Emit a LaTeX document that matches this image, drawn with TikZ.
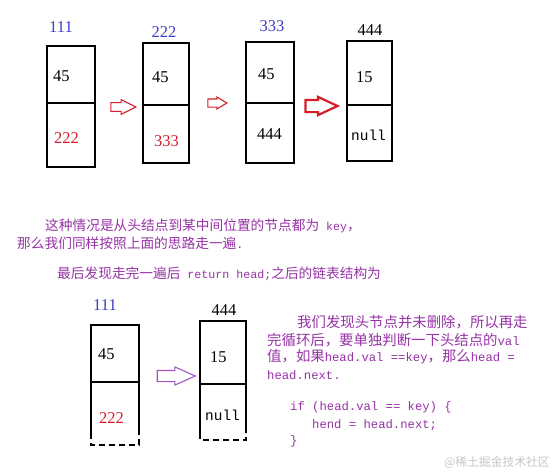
\documentclass[tikz,border=0pt]{standalone}
\usepackage{fontspec}
\setmainfont{Liberation Serif}
\newfontfamily\cjk{Noto Sans CJK SC}
\newfontfamily\code[Scale=0.85]{Liberation Mono}
\usetikzlibrary{shapes.arrows}
\definecolor{addrblue}{RGB}{60,60,200}
\definecolor{nextred}{RGB}{215,30,40}
\definecolor{notepurple}{RGB}{150,50,165}
\definecolor{arrowpurple}{RGB}{165,85,195}

\begin{document}
\begin{tikzpicture}[x=1pt, y=-1pt,
    box/.style={line width=2.6pt},
    addr/.style={font=\fontsize{16.5}{16}\selectfont, inner sep=0pt},
    val/.style={font=\fontsize{16.5}{16}\selectfont, anchor=west, inner sep=0pt},
    note/.style={font=\cjk\fontsize{13.7}{17}\selectfont, text=notepurple, anchor=west, inner sep=0pt},
    remark/.style={note, font=\cjk\fontsize{14.4}{17}\selectfont},
    fat/.style={single arrow, draw=#1, fill=white, inner xsep=0pt, single arrow head indent=0pt}
  ]
    \useasboundingbox (0,0) rectangle (553,472);

    % Draw the first list
    \draw[box] (47,46) rectangle (95,167);
    \draw[box] (47,103) -- (95,103);
    \draw[box] (143,43) rectangle (189,163);
    \draw[box] (143,105) -- (189,105);
    \draw[box] (246,42) rectangle (294,163);
    \draw[box] (246,103) -- (294,103);
    \draw[box] (347,41) rectangle (392,161);
    \draw[box] (347,105) -- (392,105);

    % Addresses
    \node[addr, text=addrblue] (a1) at (61,27) {111};
    \node[addr, text=addrblue] (a2) at (164,32) {222};
    \node[addr, text=addrblue] (a3) at (272,26) {333};
    \node[addr] (a4) at (370,30) {444};

    % Values and next fields
    \node[val] (v1) at (53,76) {45};
    \node[val, text=nextred] (n1) at (54,138) {222};
    \node[val] (v2) at (152,77) {45};
    \node[val, text=nextred] (n2) at (154,141) {333};
    \node[val] (v3) at (258,74) {45};
    \node[val] (n3) at (257,134) {444};
    \node[val] (v4) at (356,77) {15};
    \node[val, font=\code\fontsize{17}{16}\selectfont] (n4) at (351,135) {null};

    % Arrows between the steps
    \node[fat=nextred, line width=1.1pt, minimum height=25, inner ysep=3.8,
      single arrow head extend=3, single arrow tip angle=53] (ar1) at (119,107) {};
    \node[fat=nextred, line width=1.1pt, minimum height=19, inner ysep=3.5,
      single arrow head extend=2, single arrow tip angle=62] (ar2) at (214,103) {};
    \node[fat=nextred, line width=2.2pt, minimum height=32, inner ysep=5,
      single arrow head extend=3, single arrow tip angle=50] (ar3) at (315,106) {};

    % Explanation
    \node[note] (t1) at (45,226) {这种情况是从头结点到某中间位置的节点都为{\code{} key}，};
    \node[note] (t2) at (17,243) {那么我们同样按照上面的思路走一遍{\code.}};
    \node[note] (t3) at (57,274) {最后发现走完一遍后{\code{} return head;}之后的链表结构为};

    % Draw the resulting list
    \draw[box] (91,433) -- (91,325) -- (139,325) -- (139,433);
    \draw[box] (91,382) -- (139,382);
    \draw[box, dash pattern=on 6pt off 4pt] (91,433) -- (91,445) -- (139,445) -- (139,433);
    \draw[box] (200,433) -- (200,321) -- (246,321) -- (246,433);
    \draw[box] (200,384) -- (246,384);
    \draw[box, dash pattern=on 6pt off 4pt] (200,433) -- (200,440) -- (246,440) -- (246,433);

    \node[addr, text=addrblue] (a5) at (105,305) {111};
    \node[addr] (a6) at (224,310) {444};
    \node[val] (v5) at (98,354) {45};
    \node[val, text=nextred] (n5) at (99,418) {222};
    \node[val] (v6) at (210,357) {15};
    \node[val, font=\code\fontsize{17}{16}\selectfont] (n6) at (205,415) {null};

    \node[fat=arrowpurple, line width=1.1pt, minimum height=38, inner ysep=5,
      single arrow head extend=3.5, single arrow tip angle=48] (ar4) at (170,376) {};

    % Note on the head node
    \node[remark] (r1) at (297,322) {我们发现头节点并未删除，所以再走};
    \node[remark] (r2) at (267,340) {完循环后，要单独判断一下头结点的{\code val}};
    \node[remark] (r3) at (267,357) {值，如果{\code head.val ==key}，那么{\code head =}};
    \node[remark] (r4) at (267,375) {{\code head.next.}};
    \node[remark] (c1) at (290,407) {{\code if (head.val == key) \{}};
    \node[remark] (c2) at (312,425) {{\code hend = head.next;}};
    \node[remark] (c3) at (290,441) {{\code \}}};

    % Watermark
    \node[anchor=west, inner sep=0pt, text=gray!45, font=\cjk\fontsize{11.8}{14}\selectfont] (wm) at (444,462) {@稀土掘金技术社区};
\end{tikzpicture}
\end{document}
